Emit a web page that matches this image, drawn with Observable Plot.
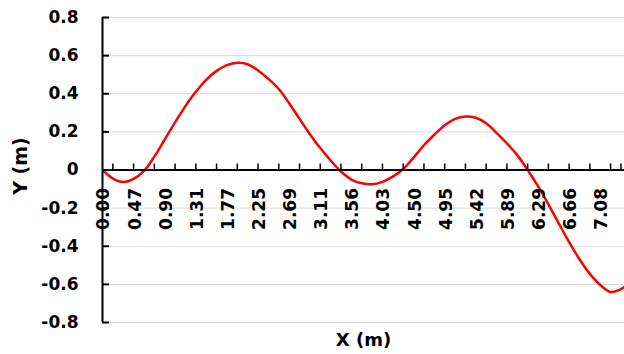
<!DOCTYPE html>
<html>
<head>
<meta charset="utf-8">
<script src="https://cdn.jsdelivr.net/npm/d3@7"></script>
<script src="https://cdn.jsdelivr.net/npm/@observablehq/plot@0.6"></script>
<style>
  html, body { margin: 0; padding: 0; background: #fff; }
  #chart { width: 624px; height: 354px; }
</style>
</head>
<body>
<div id="chart"></div>
<script>
// Category labels shown on the X axis (every third category)
const xLabels = ["0.00","0.47","0.90","1.31","1.77","2.25","2.69","3.11","3.56","4.03","4.50","4.95","5.42","5.89","6.29","6.66","7.08"];
const labelStep = 3;
// Y values (m), one per category
const yValues = [0, -0.045, -0.063, -0.047, -0.005, 0.07, 0.16, 0.25, 0.335, 0.41, 0.473, 0.52, 0.55, 0.563, 0.555, 0.522, 0.478, 0.425, 0.35, 0.268, 0.188, 0.115, 0.05, -0.008, -0.05, -0.07, -0.075, -0.062, -0.035, 0.005, 0.065, 0.13, 0.185, 0.235, 0.268, 0.281, 0.274, 0.245, 0.195, 0.14, 0.078, 0.0, -0.085, -0.18, -0.28, -0.378, -0.468, -0.545, -0.603, -0.64, -0.625, -0.585];
const yTicks = [-0.8, -0.6, -0.4, -0.2, 0, 0.2, 0.4, 0.6, 0.8];

const W = 624, H = 354, ML = 102, MR = 0, MT = 17, MB = 32;
const xDomain = [0, 50.34], yDomain = [-0.8, 0.8];
// tick lengths in pixels converted to data units
const xTickLen = 6 * (yDomain[1] - yDomain[0]) / (H - MT - MB);
const yTickLen = 7 * (xDomain[1] - xDomain[0]) / (W - ML - MR);

const points = yValues.map((y, i) => ({i, y}));
const labels = xLabels.map((t, k) => ({i: k * labelStep, t}));
const xTickIdx = d3.range(1, 50, 2).concat([50]);

const chart = Plot.plot({
  width: W,
  height: H,
  marginLeft: ML,
  marginRight: MR,
  marginTop: MT,
  marginBottom: MB,
  style: {fontFamily: "DejaVu Sans", fontSize: "17px", fontWeight: "bold", color: "#000", background: "#fff"},
  x: {domain: xDomain, axis: null},
  y: {domain: yDomain, axis: null},
  marks: [
    Plot.ruleY(yTicks, {stroke: "#d9d9d9", strokeWidth: 1}),
    Plot.axisY(yTicks, {tickSize: 0, tickPadding: 24, label: null, fontSize: 17, fontWeight: "bold",
      tickFormat: d => d === 0 ? "0" : d.toFixed(1)}),
    Plot.line(points, {x: "i", y: "y", stroke: "#ff0000", strokeWidth: 2.5, curve: "catmull-rom", clip: true}),
    Plot.ruleX([0], {stroke: "#000", strokeWidth: 2}),
    Plot.ruleY([0], {stroke: "#000", strokeWidth: 2}),
    Plot.ruleY(yTicks, {x1: 0, x2: yTickLen, stroke: "#000", strokeWidth: 2}),
    Plot.ruleX(xTickIdx, {x: d => d, y1: 0, y2: xTickLen, stroke: "#000", strokeWidth: 1.5}),
    Plot.text(labels, {x: "i", y: () => 0, text: "t", rotate: -90, textAnchor: "end", dy: 18, dx: 1.5,
      fontSize: 17, fontWeight: "bold", fill: "#000"}),
    Plot.text(["X (m)"], {frameAnchor: "bottom", textAnchor: "middle", lineAnchor: "middle", dy: 18, fontSize: 18, fontWeight: "bold", fill: "#000"}),
    Plot.text(["Y (m)"], {frameAnchor: "left", textAnchor: "middle", lineAnchor: "middle", dx: -82, dy: -4, rotate: -90, fontSize: 19, fontWeight: "bold", fill: "#000"})
  ]
});
document.getElementById("chart").appendChild(chart);
</script>
</body>
</html>
